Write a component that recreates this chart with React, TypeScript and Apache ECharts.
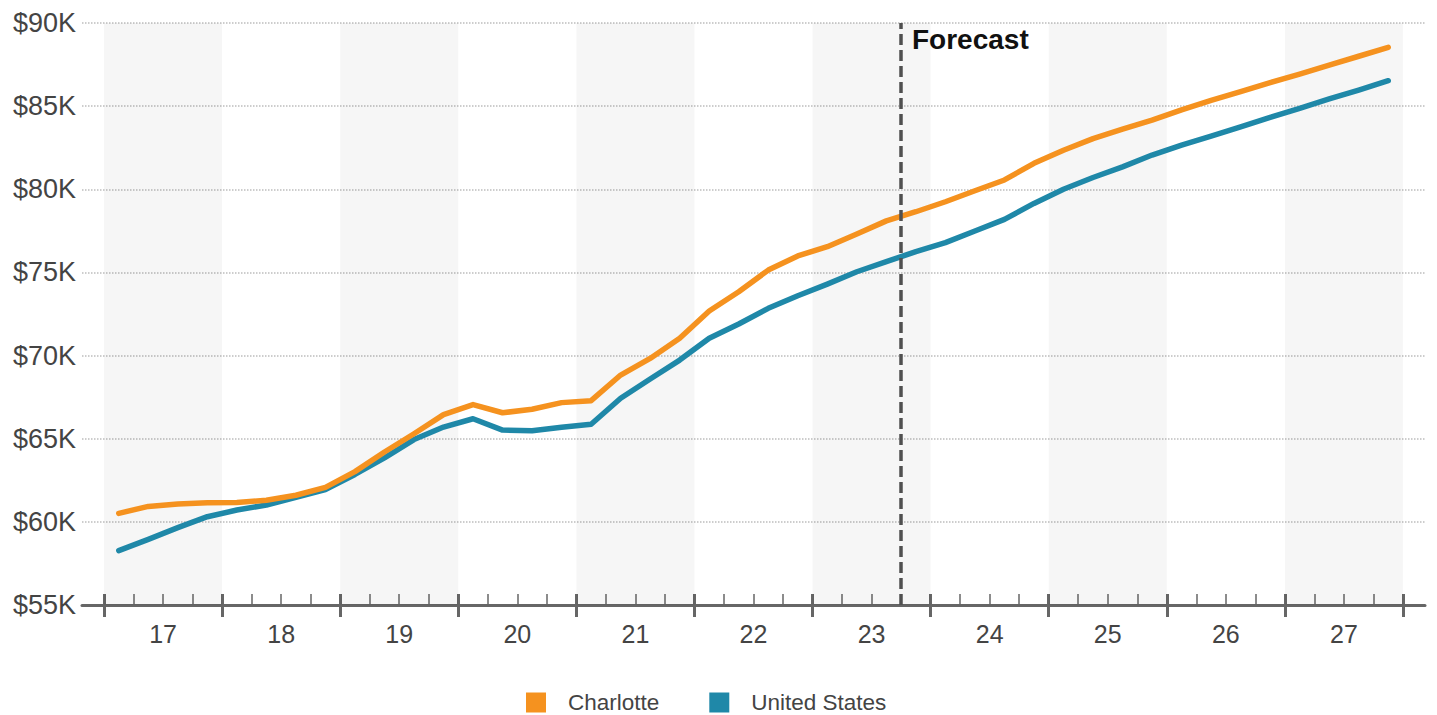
import React, { useEffect, useRef } from "react";
import * as echarts from "echarts";

// Year labels along the bottom axis (2017–2027)
const years = ["17", "18", "19", "20", "21", "22", "23", "24", "25", "26", "27"];

// Quarterly values, $ thousands, 2017 Q1 … 2027 Q4
const charlotte = [
  60.51, 60.93, 61.08, 61.15, 61.17, 61.3, 61.6, 62.07,
  63.02, 64.2, 65.3, 66.45, 67.05, 66.56, 66.77, 67.17,
  67.29, 68.83, 69.83, 71.04, 72.68, 73.84, 75.14, 75.99,
  76.55, 77.31, 78.1, 78.65, 79.25, 79.91, 80.56, 81.56,
  82.35, 83.05, 83.62, 84.16, 84.78, 85.35, 85.87, 86.42,
  86.93, 87.47, 88.0, 88.54,
];

const unitedStates = [
  58.27, 58.95, 59.65, 60.31, 60.71, 61.01, 61.48, 61.94,
  62.85, 63.85, 64.95, 65.7, 66.2, 65.52, 65.48, 65.69,
  65.87, 67.43, 68.59, 69.73, 71.04, 71.9, 72.84, 73.6,
  74.3, 75.04, 75.65, 76.25, 76.79, 77.49, 78.19, 79.15,
  80.0, 80.71, 81.35, 82.06, 82.66, 83.2, 83.76, 84.32,
  84.86, 85.43, 85.97, 86.53,
];

// Forecast begins with this quarter (index into the series above: 2023 Q4)
const forecastQuarter = 27;

const yTicks = { min: 55, max: 90, step: 5 };

const ORANGE = "#F5921F";
const TEAL = "#1F88A8";
const AXIS = "#666666";
const TEXT = "#444444";
const FONT = "'Liberation Sans', Arial, Helvetica, sans-serif";

const App: React.FC = () => {
  const ref = useRef<HTMLDivElement>(null);

  useEffect(() => {
    if (!ref.current) return;
    const chart = echarts.init(ref.current, undefined, { renderer: "svg" });

    const nYears = years.length;
    const toX = (q: number) => (q + 0.5) / 4;
    const pad = 0.1863; // axis line runs a little past the first and last year
    const xMin = -pad;
    const xMax = nYears + pad;

    const yearBounds = Array.from({ length: nYears + 1 }, (_, i) => i);
    const yearCenters = years.map((_, i) => i + 0.5);
    const quarterTicks: number[] = [];
    for (let y = 0; y < nYears; y++) quarterTicks.push(y + 0.25, y + 0.5, y + 0.75);

    const bands = years
      .map((_, i) => i)
      .filter((i) => i % 2 === 0)
      .map((i) => [{ xAxis: i }, { xAxis: i + 1 }]);

    const baseX = {
      type: "value" as const,
      min: xMin,
      max: xMax,
      position: "bottom" as const,
      splitLine: { show: false },
    };

    chart.setOption({
      animation: false,
      textStyle: { fontFamily: FONT },
      grid: { left: 82, right: 12, top: 23, bottom: 110, containLabel: false, outerBoundsMode: "none" },
      xAxis: [
        {
          ...baseX,
          axisLine: { show: true, onZero: false, lineStyle: { color: AXIS, width: 3 } },
          axisTick: { show: true, customValues: yearBounds, inside: false, length: 12, lineStyle: { color: AXIS, width: 3 } },
          axisLabel: {
            show: true,
            customValues: yearCenters,
            formatter: (v: number) => years[Math.floor(v)] ?? "",
            fontSize: 25,
            color: TEXT,
            margin: 16,
            fontFamily: FONT,
          },
        },
        {
          ...baseX,
          axisLine: { show: false },
          axisTick: { show: true, customValues: yearBounds, inside: true, length: 11, lineStyle: { color: AXIS, width: 3 } },
          axisLabel: { show: false },
        },
        {
          ...baseX,
          axisLine: { show: false },
          axisTick: { show: true, customValues: quarterTicks, inside: true, length: 11, lineStyle: { color: AXIS, width: 1.5 } },
          axisLabel: { show: false },
        },
      ],
      yAxis: {
        type: "value",
        min: yTicks.min,
        max: yTicks.max,
        interval: yTicks.step,
        axisLine: { show: false },
        axisTick: { show: false },
        axisLabel: {
          formatter: (v: number) => `$${v}K`,
          fontSize: 27,
          color: TEXT,
          margin: 6,
          fontFamily: FONT,
        },
        splitLine: { show: true, lineStyle: { type: "dotted", color: "#bdbdbd", width: 1.5 } },
      },
      legend: {
        data: ["Charlotte", "United States"],
        left: 526,
        top: 691,
        padding: 0,
        icon: "rect",
        itemWidth: 20,
        itemHeight: 20,
        itemGap: 50,
        textStyle: { fontSize: 22.5, color: TEXT, fontFamily: FONT, padding: [0, 0, 0, 17] },
      },
      graphic: [
        {
          type: "text",
          left: 912,
          top: 25,
          style: { text: "Forecast", font: `bold 28px ${FONT}`, fill: "#111111" },
        },
      ],
      series: [
        {
          name: "United States",
          type: "line",
          xAxisIndex: 0,
          data: unitedStates.map((v, i) => [toX(i), v]),
          showSymbol: false,
          symbol: "none",
          itemStyle: { color: TEAL },
          lineStyle: { color: TEAL, width: 5.5, cap: "round", join: "round" },
          markArea: {
            silent: true,
            itemStyle: { color: "rgba(0,0,0,0.035)" },
            data: bands,
          },
        },
        {
          name: "Charlotte",
          type: "line",
          xAxisIndex: 0,
          data: charlotte.map((v, i) => [toX(i), v]),
          showSymbol: false,
          symbol: "none",
          itemStyle: { color: ORANGE },
          lineStyle: { color: ORANGE, width: 5.5, cap: "round", join: "round" },
          markLine: {
            silent: true,
            symbol: "none",
            label: { show: false },
            lineStyle: { type: [11, 5], color: "#505050", width: 3.5 },
            data: [{ xAxis: forecastQuarter / 4 }],
          },
        },
      ],
    });

    return () => chart.dispose();
  }, []);

  return (
    <div
      ref={ref}
      style={{ position: "fixed", left: 0, top: 0, width: 1437, height: 715, background: "#ffffff" }}
    />
  );
};

export default App;
